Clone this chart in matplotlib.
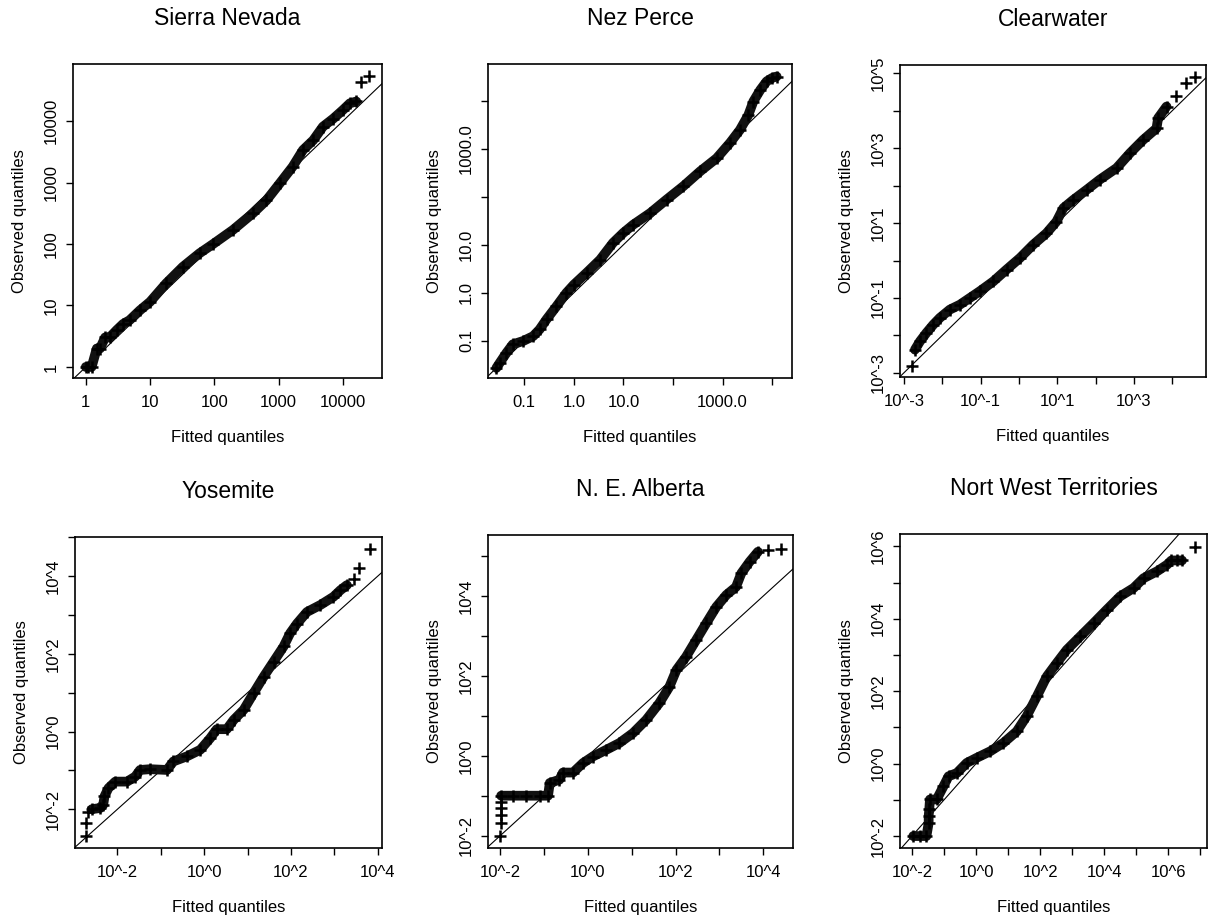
import numpy as np
import matplotlib
matplotlib.use('Agg')
from matplotlib import pyplot as plt
from matplotlib.ticker import FixedLocator, FixedFormatter, NullLocator

plt.rcParams['font.family'] = ['Liberation Sans', 'DejaVu Sans']

TITLES = ['Sierra Nevada', 'Nez Perce', 'Clearwater',
          'Yosemite', 'N. E. Alberta', 'Nort West Territories']

# log10 of fitted (x) and observed (y) quantiles
sierra_x = [0.0, 0.04, 0.09, 0.17, 0.22, 0.30, 0.37, 0.48, 0.58, 0.68, 0.84, 1.00, 1.25, 1.51, 1.77,
            1.98, 2.29, 2.60, 2.81, 3.02, 3.22, 3.38, 3.54, 3.69, 3.85, 4.00, 4.11, 4.21, 4.29, 4.41]
sierra_y = [0.0, 0.0, 0.0, 0.30, 0.30, 0.48, 0.48, 0.60, 0.70, 0.76, 0.92, 1.06, 1.36, 1.63, 1.85,
            2.00, 2.23, 2.50, 2.71, 2.99, 3.26, 3.53, 3.69, 3.91, 4.04, 4.18, 4.29, 4.32, 4.64, 4.73]

nez_x = [-1.56, -1.49, -1.36, -1.23, -1.02, -0.82, -0.69, -0.55, -0.35, -0.15, 0.0, 0.26, 0.53, 0.79, 1.0,
         1.20, 1.54, 1.87, 2.21, 2.55, 2.88, 3.15, 3.35, 3.52, 3.62, 3.76, 3.89, 4.00, 4.09]
nez_y = [-1.56, -1.45, -1.25, -1.07, -1.0, -0.90, -0.76, -0.55, -0.28, 0.0, 0.17, 0.42, 0.69, 1.04, 1.25,
         1.42, 1.66, 1.94, 2.22, 2.53, 2.80, 3.12, 3.39, 3.70, 3.98, 4.22, 4.40, 4.47, 4.50]

clear_x = [-2.80, -2.71, -2.58, -2.41, -2.23, -2.06, -1.80, -1.54, -1.28, -1.02, -0.67, -0.32, 0.03, 0.37, 0.72,
           0.98, 1.16, 1.42, 1.77, 2.11, 2.55, 2.90, 3.24, 3.59, 3.63, 3.85, 4.11, 4.37, 4.59]
clear_y = [-2.82, -2.38, -2.16, -1.93, -1.71, -1.53, -1.31, -1.18, -1.0, -0.82, -0.56, -0.24, 0.07, 0.42, 0.73,
           1.04, 1.40, 1.62, 1.89, 2.16, 2.47, 2.87, 3.22, 3.53, 3.80, 4.11, 4.38, 4.73, 4.91]

yos_x = [-2.72, -2.72, -2.69, -2.59, -2.40, -2.33, -2.30, -2.21, -2.05, -1.78, -1.59, -1.48, -1.25, -0.86,
         -0.71, -0.40, -0.09, 0.14, 0.29, 0.52, 0.68, 0.91, 1.14, 1.37, 1.60, 1.83, 1.98, 2.14, 2.37, 2.68,
         2.98, 3.14, 3.29, 3.45, 3.56, 3.83]
yos_y = [-2.70, -2.36, -2.06, -2.00, -1.97, -1.89, -1.67, -1.46, -1.29, -1.29, -1.16, -0.99, -0.97, -0.99,
         -0.77, -0.64, -0.47, -0.17, 0.06, 0.06, 0.30, 0.56, 0.99, 1.41, 1.80, 2.19, 2.53, 2.78, 3.08, 3.26,
         3.47, 3.64, 3.77, 3.94, 4.22, 4.71]

alb_x = [-2.0, -1.98, -1.98, -1.98, -1.98, -1.98, -1.71, -1.41, -1.10, -0.91, -0.87, -0.65, -0.57, -0.34,
         -0.11, 0.11, 0.42, 0.72, 1.03, 1.33, 1.63, 1.86, 2.02, 2.24, 2.47, 2.70, 2.93, 3.16, 3.38, 3.50,
         3.69, 3.88, 4.11, 4.41]
alb_y = [-2.02, -1.68, -1.48, -1.32, -1.15, -1.0, -1.0, -1.0, -1.0, -1.0, -0.68, -0.60, -0.42, -0.42,
         -0.18, -0.02, 0.15, 0.32, 0.57, 0.90, 1.32, 1.73, 2.15, 2.48, 2.90, 3.32, 3.73, 4.03, 4.23, 4.57,
         4.86, 5.11, 5.15, 5.19]

nwt_x = [-1.96, -1.75, -1.55, -1.48, -1.48, -1.46, -1.44, -1.23, -1.02, -0.86, -0.60, -0.29, 0.02, 0.44,
         0.85, 1.27, 1.58, 1.90, 2.21, 2.52, 2.83, 3.25, 3.67, 4.08, 4.50, 4.92, 5.23, 5.65, 5.96, 6.10,
         6.27, 6.43, 6.84]
nwt_y = [-2.0, -2.0, -2.0, -1.64, -1.45, -1.25, -0.99, -0.99, -0.63, -0.35, -0.26, 0.02, 0.16, 0.34,
         0.57, 0.89, 1.31, 1.86, 2.41, 2.78, 3.14, 3.51, 3.88, 4.25, 4.62, 4.85, 5.12, 5.31, 5.49, 5.61,
         5.61, 5.61, 5.98]

DATA = [(sierra_x, sierra_y), (nez_x, nez_y), (clear_x, clear_y),
        (yos_x, yos_y), (alb_x, alb_y), (nwt_x, nwt_y)]

# part of each series drawn as a solid band (the rest are loose crosses)
BAND = [(0, 28), (0, 29), (1, 26), (3, 33), (5, 32), (0, 32)]

# axes box in pixels: left, top, right, bottom
BOXES = [(73, 64, 382, 378), (488, 64, 792, 378), (900, 65, 1206, 377),
         (75, 537, 382, 848), (488, 535, 793, 848), (900, 534, 1207, 848)]
XLIMS = [(-0.2, 4.61), (-1.73, 4.40), (-3.10, 4.88), (-2.98, 4.10), (-2.28, 4.68), (-2.375, 7.21)]
YLIMS = [(-0.18, 4.93), (-1.77, 4.76), (-3.11, 5.22), (-3.0, 5.01), (-2.31, 5.53), (-2.33, 6.34)]

XTICKS = [range(0, 5), range(-1, 5), range(-3, 5), range(-2, 5), range(-2, 5), range(-2, 8)]
YTICKS = [range(0, 5), range(-1, 5), range(-3, 6), range(-2, 6), range(-2, 6), range(-2, 7)]
XLABELED = [[0, 1, 2, 3, 4], [-1, 0, 1, 3], [-3, -1, 1, 3], [-2, 0, 2, 4], [-2, 0, 2, 4], [-2, 0, 2, 4, 6]]
YLABELED = [[0, 1, 2, 3, 4], [-1, 0, 1, 3], [-3, -1, 1, 3, 5], [-2, 0, 2, 4], [-2, 0, 2, 4], [-2, 0, 2, 4, 6]]
STYLE = ['int', 'dec', 'pow', 'pow', 'pow', 'pow']

W, H = 1212, 921


def tick_text(e, style):
    if style == 'int':
        return str(10 ** e)
    if style == 'dec':
        return '{:.1f}'.format(10.0 ** e)
    return '10^{}'.format(e)


fig = plt.figure(figsize=(W / 100, H / 100), dpi=100)

for i in range(6):
    l, t, r, b = BOXES[i]
    ax = fig.add_axes([l / W, 1 - b / H, (r - l) / W, (b - t) / H])
    x = 10.0 ** np.array(DATA[i][0])
    y = 10.0 ** np.array(DATA[i][1])
    s, e = BAND[i]
    ax.plot([1e-8, 1e9], [1e-8, 1e9], color='black', lw=0.8)
    ax.plot(x[s:e], y[s:e], color='#111111', lw=7, solid_capstyle='round', solid_joinstyle='round')
    ax.plot(x, y, ls='none', marker='+', ms=9, mew=1.8, color='black')
    ax.set_xscale('log')
    ax.set_yscale('log')
    ax.set_xlim(10.0 ** XLIMS[i][0], 10.0 ** XLIMS[i][1])
    ax.set_ylim(10.0 ** YLIMS[i][0], 10.0 ** YLIMS[i][1])

    xt = list(XTICKS[i])
    yt = list(YTICKS[i])
    ax.xaxis.set_major_locator(FixedLocator([10.0 ** k for k in xt]))
    ax.yaxis.set_major_locator(FixedLocator([10.0 ** k for k in yt]))
    ax.xaxis.set_major_formatter(FixedFormatter(
        [tick_text(k, STYLE[i]) if k in XLABELED[i] else '' for k in xt]))
    ax.yaxis.set_major_formatter(FixedFormatter(
        [tick_text(k, STYLE[i]) if k in YLABELED[i] else '' for k in yt]))
    ax.xaxis.set_minor_locator(NullLocator())
    ax.yaxis.set_minor_locator(NullLocator())
    for lab in ax.get_yticklabels():
        lab.set_rotation(90)
        lab.set_va('center')
    ax.tick_params(direction='out', length=5, width=1, labelsize=12, color='black')
    ax.tick_params(axis='x', pad=7)
    ax.tick_params(axis='y', pad=5)
    for sp in ax.spines.values():
        sp.set_linewidth(1.2)

    ax.set_title(TITLES[i], fontsize=16.5, pad=28)
    ax.set_xlabel('Fitted quantiles', fontsize=12)
    ax.set_ylabel('Observed quantiles', fontsize=12)
    ax.xaxis.set_label_coords(0.5, -52 / (b - t))
    ax.yaxis.set_label_coords(-46 / (r - l), 0.5)

fig.savefig('out.png', dpi=100)
